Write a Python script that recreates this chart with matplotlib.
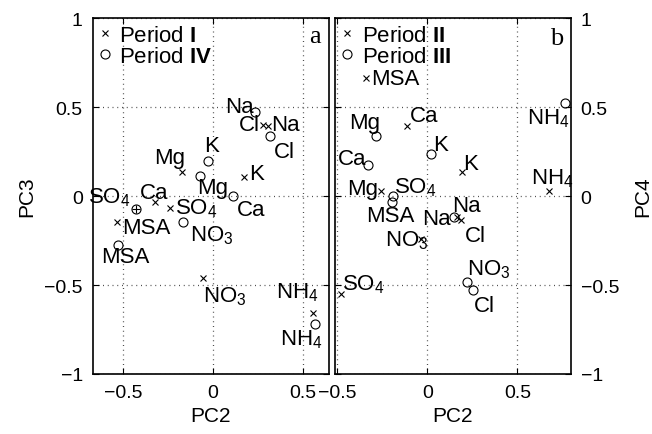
import matplotlib
matplotlib.use('Agg')
import matplotlib.pyplot as plt

plt.rcParams['font.family'] = ['Liberation Sans', 'DejaVu Sans']
plt.rcParams['mathtext.fontset'] = 'custom'
plt.rcParams['mathtext.rm'] = 'Liberation Sans'
plt.rcParams['mathtext.it'] = 'Liberation Sans:italic'
plt.rcParams['mathtext.bf'] = 'Liberation Sans:bold'

# panel a: PC2 vs PC3
a_x_names = ['Cl', 'Na', 'Mg', 'K', 'Ca', 'SO4', 'MSA', 'NO3', 'NH4']
a_x_pc2 = [0.278, 0.303, -0.174, 0.174, -0.322, -0.241, -0.537, -0.056, 0.553]
a_x_pc3 = [0.400, 0.393, 0.137, 0.107, -0.034, -0.067, -0.146, -0.461, -0.656]

a_o_names = ['Na', 'Cl', 'K', 'Mg', 'Ca', 'SO4', 'MSA', 'NO3', 'NH4']
a_o_pc2 = [0.235, 0.315, -0.028, -0.071, 0.109, -0.426, -0.528, -0.167, 0.566]
a_o_pc3 = [0.475, 0.337, 0.197, 0.114, 0.000, -0.075, -0.277, -0.146, -0.719]

# panel b: PC2 vs PC4
b_x_names = ['MSA', 'Ca', 'K', 'NH4', 'Mg', 'Na', 'Cl', 'NO3', 'SO4']
b_x_pc2 = [-0.341, -0.111, 0.191, 0.678, -0.259, 0.163, 0.185, -0.035, -0.479]
b_x_pc4 = [0.665, 0.393, 0.138, 0.028, 0.026, -0.118, -0.137, -0.240, -0.549]

b_o_names = ['NH4', 'Mg', 'K', 'Ca', 'SO4', 'MSA', 'Na', 'NO3', 'Cl']
b_o_pc2 = [0.767, -0.285, 0.021, -0.328, -0.192, -0.198, 0.145, 0.222, 0.252]
b_o_pc4 = [0.522, 0.335, 0.239, 0.172, -0.002, -0.034, -0.118, -0.483, -0.530]

ticks = [-1, -0.5, 0, 0.5, 1]
xticks = [-0.5, 0, 0.5]

FS = 16

# label placement (dx, dy in pixels, ha, va)
a_x_off = [(-3, 0, 'right', 'center'), (3, 2, 'left', 'center'),
           (3, 9, 'right', 'baseline'), (5, -2, 'left', 'baseline'),
           (-15, 4, 'left', 'baseline'), (5, -5, 'left', 'baseline'),
           (6, -5, 'left', 'center'), (0, -6, 'left', 'top'),
           (6, 15, 'right', 'baseline')]
a_o_off = [(-2, 0, 'right', 'baseline'), (4, -5, 'left', 'top'),
           (-4, 10, 'left', 'baseline'), (-3, -1, 'left', 'top'),
           (4, -3, 'left', 'top'), (-6, 7, 'right', 'baseline'),
           (7, -1, 'center', 'top'), (7, -1, 'left', 'top'),
           (7, -20, 'right', 'baseline')]
b_x_off = [(5, -1, 'left', 'center'), (2, 5, 'left', 'baseline'),
           (1, 3, 'left', 'baseline'), (24, 8, 'right', 'baseline'),
           (-3, -3, 'right', 'baseline'), (-5, 6, 'left', 'baseline'),
           (4, -5, 'left', 'top'), (7, -7, 'right', 'baseline'),
           (1, 4, 'left', 'baseline')]
b_o_off = [(4, -3, 'right', 'top'), (4, 8, 'right', 'baseline'),
           (2, 4, 'left', 'baseline'), (-2, 1, 'right', 'baseline'),
           (1, 4, 'left', 'baseline'), (-1, -3, 'center', 'top'),
           (-3, -7, 'right', 'baseline'), (0, 8, 'left', 'baseline'),
           (1, -5, 'left', 'top')]


def chem(name):
    # put the trailing digit as subscript
    if name[-1].isdigit():
        return name[:-1] + '$_{' + name[-1] + '}$'
    return name


def draw_panel(ax, xs, ys, xnames, xoff, os_, oys, onames, ooff, labels, letter, lpos):
    ax.plot(xs, ys, 'x', color='k', ms=4, mew=0.8, label=labels[0])
    ax.plot(os_, oys, 'o', color='k', mfc='none', ms=6.5, mew=0.8, label=labels[1])
    for n, x, y, (dx, dy, ha, va) in zip(xnames, xs, ys, xoff):
        ax.annotate(chem(n), (x, y), xytext=(dx, dy), textcoords='offset pixels',
                    ha=ha, va=va, fontsize=FS)
    for n, x, y, (dx, dy, ha, va) in zip(onames, os_, oys, ooff):
        ax.annotate(chem(n), (x, y), xytext=(dx, dy), textcoords='offset pixels',
                    ha=ha, va=va, fontsize=FS)
    ax.set_ylim(-1, 1)
    ax.set_yticks(ticks)
    ax.set_yticklabels(['\u22121', '\u22120.5', '0', '0.5', '1'])
    ax.set_xticks(xticks)
    ax.set_xticklabels(['\u22120.5', '0', '0.5'])
    ax.grid(True, linestyle=(0, (0.8, 3)), color='0.3', linewidth=0.9)
    ax.tick_params(direction='in', length=4, top=True, right=True, labelsize=14, pad=7)
    for s in ax.spines.values():
        s.set_linewidth(1.2)
    ax.set_xlabel('PC2', fontsize=15)
    ax.legend(loc='upper left', frameon=False, fontsize=FS, handlelength=0.5,
              handletextpad=0.4, labelspacing=0.0, borderaxespad=0.1, borderpad=0.2)
    ax.text(lpos[0], lpos[1], letter, transform=ax.transAxes, ha='right', va='baseline',
            fontsize=19, family='Liberation Serif')


fig = plt.figure(figsize=(6.52, 4.35), dpi=100)
ax1 = fig.add_axes([0.142, 0.138, 0.363, 0.818])
ax2 = fig.add_axes([0.514, 0.138, 0.3615, 0.818])

draw_panel(ax1, a_x_pc2, a_x_pc3, a_x_names, a_x_off, a_o_pc2, a_o_pc3, a_o_names, a_o_off,
           [r'Period $\mathbf{I}$', r'Period $\mathbf{IV}$'], 'a', (0.962, 0.933))
# the SO4 point of period IV is drawn with a cross-hair in the original
so4 = a_o_names.index('SO4')
ax1.plot(a_o_pc2[so4], a_o_pc3[so4], '+', color='k', ms=6, mew=0.8)
ax1.set_xlim(-0.67, 0.645)
ax1.set_ylabel('PC3', fontsize=15, labelpad=6)

draw_panel(ax2, b_x_pc2, b_x_pc4, b_x_names, b_x_off, b_o_pc2, b_o_pc4, b_o_names, b_o_off,
           [r'Period $\mathbf{II}$', r'Period $\mathbf{III}$'], 'b', (0.967, 0.927))
ax2.set_xlim(-0.513, 0.797)
ax2.yaxis.tick_right()
ax2.tick_params(axis='y', left=True, right=True, labelleft=False, labelright=True)
ax2.yaxis.set_label_position('right')
ax2.set_ylabel('PC4', fontsize=15, labelpad=10)

fig.savefig('out.png', dpi=100)
